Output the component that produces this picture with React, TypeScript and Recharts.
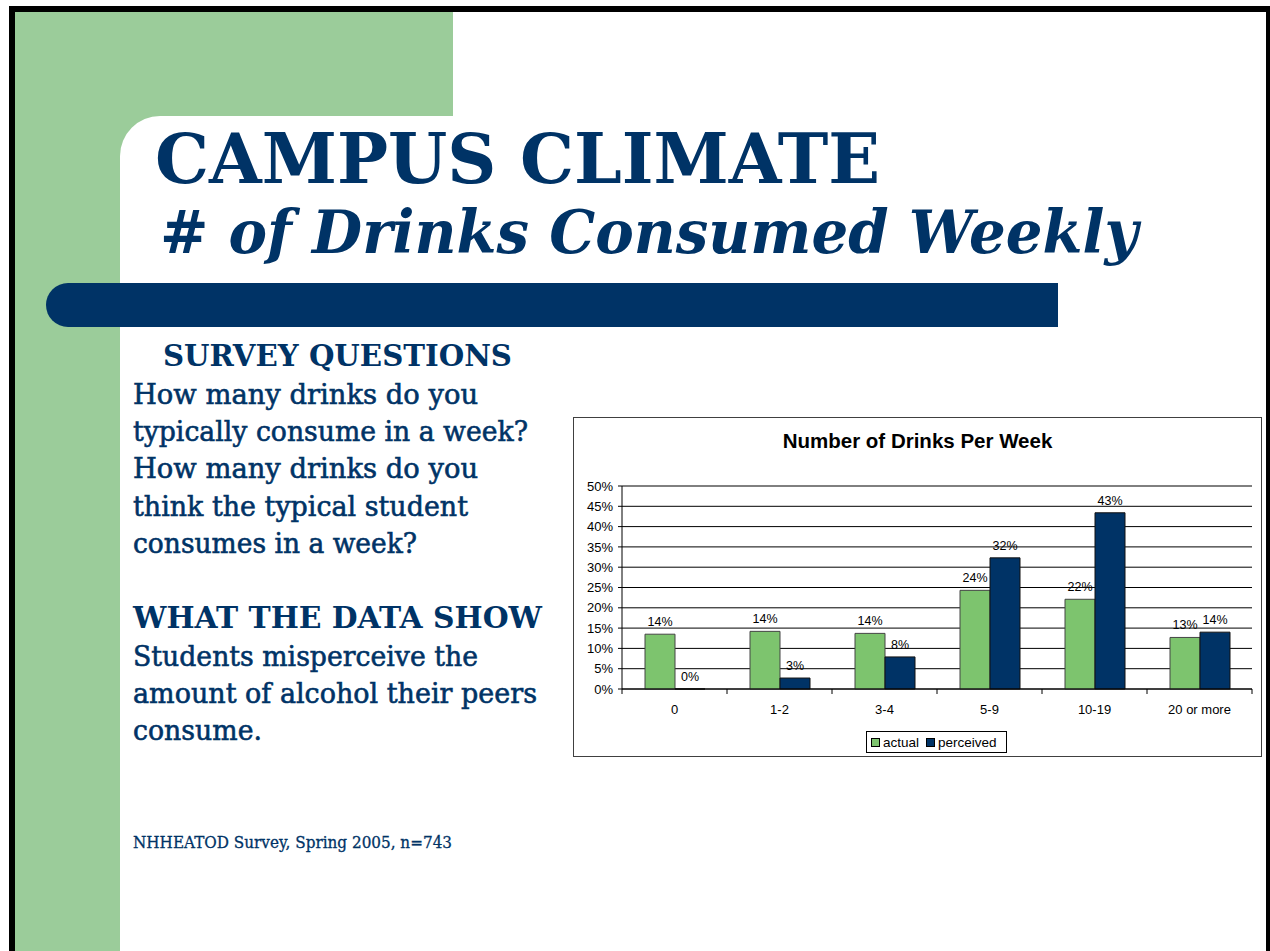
import {
  Bar,
  BarChart,
  CartesianGrid,
  LabelList,
  Legend,
  XAxis,
  YAxis,
} from "recharts";

const categories = ["0", "1-2", "3-4", "5-9", "10-19", "20 or more"];
const actual = [13.5, 14.2, 13.7, 24.3, 22.1, 12.7];
const perceived = [0, 2.7, 7.9, 32.3, 43.4, 14.0];
const yTicks = [0, 5, 10, 15, 20, 25, 30, 35, 40, 45, 50];

const questionLines = [
  "How many drinks do you",
  "typically consume in a week?",
  "How many drinks do you",
  "think the typical student",
  "consumes in a week?",
];
const questionWidths = [345, 395, 345, 335, 284];
const showLines = [
  "Students misperceive the",
  "amount of alcohol their peers",
  "consume.",
];
const showWidths = [345, 404, 129];

const data = categories.map((name, i) => ({
  name,
  actual: actual[i],
  perceived: perceived[i],
}));

const NAVY = "#003366";
const BAR_GREEN = "#7DC46E";
const SLIDE_GREEN = "#9BCC9A";
const SANS = '"Liberation Sans", Arial, sans-serif';
const SERIF = '"DejaVu Serif", serif';

const CHART_W = 687;
const CHART_H = 338;
const Y_AXIS_W = 48;
const RIGHT_M = 9;
const PLOT_W = CHART_W - Y_AXIS_W - RIGHT_M;
const BAND = PLOT_W / categories.length;
const TICK_SIZE = 5;
const TICK_MARGIN = 11;

const pct = (v: any) => `${Math.round(Number(v))}%`;

// value label drawn above each bar, also for zero-height bars
const ValueLabel = (props: any) => {
  const vb = props.viewBox || props;
  const { x, y, width } = vb;
  if (x == null || y == null) return null;
  return (
    <text
      x={x + width / 2}
      y={y - 8}
      textAnchor="middle"
      fontSize={12.5}
      fontFamily={SANS}
      fill="#000"
    >
      {pct(props.value)}
    </text>
  );
};

const CategoryTick = (props: any) => {
  const { x, y, payload, index } = props;
  const axisY = y - TICK_SIZE - TICK_MARGIN;
  return (
    <g>
      <line
        x1={x - BAND / 2}
        x2={x - BAND / 2}
        y1={axisY}
        y2={axisY + 5}
        stroke="#000"
      />
      {index === categories.length - 1 && (
        <line
          x1={x + BAND / 2}
          x2={x + BAND / 2}
          y1={axisY}
          y2={axisY + 5}
          stroke="#000"
        />
      )}
      <text
        x={x}
        y={y}
        dy="0.71em"
        textAnchor="middle"
        fontSize={13}
        fontFamily={SANS}
        fill="#000"
      >
        {payload.value}
      </text>
    </g>
  );
};

const LegendBox = (props: any) => {
  const items = props.payload || [];
  return (
    <div
      style={{
        display: "flex",
        alignItems: "center",
        border: "1px solid #000",
        background: "#fff",
        height: 22,
        boxSizing: "border-box",
        padding: "0 4px",
        fontFamily: SANS,
        fontSize: 13.5,
        color: "#000",
      }}
    >
      {items.map((it: any, i: number) => (
        <span
          key={it.value}
          style={{
            display: "flex",
            alignItems: "center",
            marginLeft: i === 0 ? 0 : 7,
          }}
        >
          <span
            style={{
              width: 7,
              height: 7,
              border: "1px solid #000",
              background: it.color,
              marginRight: 3,
            }}
          />
          {it.value}
        </span>
      ))}
    </div>
  );
};

const DrinksChart = () => (
  <div
    style={{
      position: "absolute",
      left: 573,
      top: 417,
      width: CHART_W + 2,
      height: CHART_H + 2,
      border: "1px solid #404040",
      boxSizing: "border-box",
      background: "#fff",
    }}
  >
    <div
      style={{
        position: "absolute",
        top: 13,
        left: 0,
        width: "100%",
        textAlign: "center",
        fontFamily: SANS,
        fontWeight: "bold",
        fontSize: 20.5,
        lineHeight: "20px",
        color: "#000",
      }}
    >
      Number of Drinks Per Week
    </div>
    <BarChart
      width={CHART_W}
      height={CHART_H}
      data={data}
      margin={{ top: 68, right: RIGHT_M, left: 0, bottom: 0 }}
      barGap={0}
    >
      <CartesianGrid vertical={false} stroke="#000" />
      <XAxis
        dataKey="name"
        height={67}
        tickLine={false}
        tickSize={TICK_SIZE}
        tickMargin={TICK_MARGIN}
        axisLine={{ stroke: "#000" }}
        tick={<CategoryTick />}
        interval={0}
      />
      <YAxis
        width={Y_AXIS_W}
        domain={[0, 50]}
        ticks={yTicks}
        interval={0}
        tickFormatter={(v) => `${v}%`}
        tickSize={4}
        tickMargin={5}
        axisLine={{ stroke: "#000" }}
        tickLine={{ stroke: "#000" }}
        tick={{ fill: "#000", fontSize: 13, fontFamily: SANS }}
      />
      <YAxis
        yAxisId="frame"
        orientation="right"
        width={0}
        domain={[0, 50]}
        tick={false}
        tickLine={false}
        axisLine={{ stroke: "#808080" }}
      />
      <Legend
        layout="horizontal"
        align="center"
        verticalAlign="middle"
        content={<LegendBox />}
        wrapperStyle={{ position: "absolute", left: 292, top: 313, width: 141 }}
      />
      <Bar
        dataKey="actual"
        name="actual"
        fill={BAR_GREEN}
        stroke="#444"
        barSize={30}
        legendType="square"
        isAnimationActive={false}
      >
        <LabelList dataKey="actual" content={<ValueLabel />} />
      </Bar>
      <Bar
        dataKey="perceived"
        name="perceived"
        fill={NAVY}
        stroke="#111"
        barSize={30}
        minPointSize={0.01}
        legendType="square"
        isAnimationActive={false}
      >
        <LabelList dataKey="perceived" content={<ValueLabel />} />
      </Bar>
    </BarChart>
  </div>
);

export default function App() {
  return (
    <div
      style={{
        position: "absolute",
        left: 0,
        top: 0,
        width: 1270,
        height: 951,
        overflow: "hidden",
        background: "#fff",
      }}
    >
      <svg
        width={1270}
        height={951}
        style={{ position: "absolute", left: 0, top: 0 }}
      >
        <rect x={15} y={12} width={438} height={160} fill={SLIDE_GREEN} />
        <rect x={15} y={12} width={105} height={951} fill={SLIDE_GREEN} />
        <rect x={120} y={116} width={2000} height={2000} rx={40} fill="#fff" />
        <rect x={9} y={6} width={6} height={951} fill="#000" />
        <rect x={9} y={6} width={1261} height={6} fill="#000" />
        <rect x={1266} y={6} width={4} height={951} fill="#000" />
        <path
          d="M 68 283 H 1058 V 327 H 68 A 22 22 0 0 1 68 283 Z"
          fill={NAVY}
        />
        <g fill={NAVY} fontFamily={SERIF}>
          <text
            x={155}
            y={183}
            fontSize={70}
            fontWeight="bold"
            textLength={725}
            lengthAdjust="spacingAndGlyphs"
          >
            CAMPUS CLIMATE
          </text>
          <text
            x={160}
            y={253}
            fontSize={60}
            fontWeight="bold"
            fontStyle="italic"
            textLength={978}
            lengthAdjust="spacingAndGlyphs"
          >
            # of Drinks Consumed Weekly
          </text>
          <text
            x={163}
            y={366}
            fontSize={30}
            fontWeight="bold"
            textLength={349}
            lengthAdjust="spacingAndGlyphs"
          >
            SURVEY QUESTIONS
          </text>
          <g stroke={NAVY} strokeWidth={0.6}>
            {questionLines.map((line, i) => (
              <text
                key={"q" + i}
                x={133}
                y={404 + i * 37.2}
                fontSize={28}
                textLength={questionWidths[i]}
                lengthAdjust="spacingAndGlyphs"
              >
                {line}
              </text>
            ))}
            {showLines.map((line, i) => (
              <text
                key={"s" + i}
                x={133}
                y={666 + i * 37}
                fontSize={28}
                textLength={showWidths[i]}
                lengthAdjust="spacingAndGlyphs"
              >
                {line}
              </text>
            ))}
          </g>
          <text
            x={133}
            y={628}
            fontSize={29}
            fontWeight="bold"
            textLength={409}
            lengthAdjust="spacingAndGlyphs"
          >
            WHAT THE DATA SHOW
          </text>
          <text
            x={133}
            y={848}
            fontSize={16}
            stroke={NAVY}
            strokeWidth={0.3}
            textLength={319}
            lengthAdjust="spacingAndGlyphs"
          >
            NHHEATOD Survey, Spring 2005, n=743
          </text>
        </g>
      </svg>
      <DrinksChart />
    </div>
  );
}
